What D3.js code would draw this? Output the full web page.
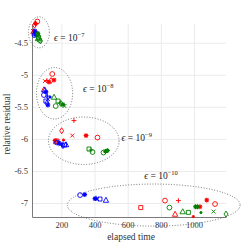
<!DOCTYPE html>
<html><head><meta charset="utf-8">
<script src="https://cdn.jsdelivr.net/npm/d3@7"></script>
<style>body{margin:0;background:#fff}svg{display:block}</style>
</head><body>
<script>
// ---- data ----
const xTicks = [200, 400, 600, 800, 1000];
const yTicks = [-7, -6.5, -6, -5.5, -5, -4.5];

const redTime     = [55, 44, 47, 38, 29, 32, 41,   145, 101, 113, 125, 138, 156, 95,   276, 202, 266, 349, 418, 162, 168, 174, 213,   679, 825, 906, 886, 996, 1036, 1077, 1127];
const redResidual = [-4.169, -4.20, -4.208, -4.224, -4.317, -4.325, -4.341,   -4.988, -5.098, -5.090, -5.113, -5.090, -5.082, -5.230,   -5.714, -5.873, -5.948, -5.948, -5.979, -6.026, -6.041, -6.034, -6.018,   -7.071, -6.962, -6.962, -7.172, -7.211, -7.058, -6.954, -7.016];
const redMarker   = ["o","*","+","d","x","^","*",   "o","x","+","*","d","*","^",   "+","d","x","*","o","*","^","s",".",   "s","o","+","^",".","*","*","o"];

const blueTime     = [41, 44, 50, 38, 47, 53,   101, 107, 95, 116, 119, 132, 107, 113, 119,   174, 186, 195, 201, 210, 219, 228,   313, 341, 403, 409, 415, 433, 469];
const blueResidual = [-4.317, -4.349, -4.364, -4.380, -4.388, -4.364,   -5.238, -5.269, -5.316, -5.332, -5.378, -5.347, -5.410, -5.441, -5.472,   -6.057, -6.065, -6.080, -6.096, -6.104, -6.096, -6.088,   -6.876, -6.868, -6.931, -6.923, -6.938, -6.938, -6.954];
const blueMarker   = ["*","^","s","o","x","+",   "^","*","o","+","x",".","s","d","*",   "o","*","x","+","d","s","^",   "o","*","*","+","x","s","^"];

const greenTime     = [59, 62, 65, 62, 59, 68, 74,   156, 180, 192, 198, 210, 219, 166,   367, 379, 388, 454, 466, 478,   852, 932, 966, 1009, 1021, 1042, 1118, 1193];
const greenResidual = [-4.356, -4.380, -4.395, -4.419, -4.434, -4.458, -4.473,   -5.347, -5.410, -5.441, -5.449, -5.464, -5.488, -5.488,   -6.158, -6.174, -6.205, -6.213, -6.193, -6.182,   -7.071, -7.133, -7.146, -7.058, -7.058, -7.149, -7.133, -7.172];
const greenMarker   = ["*",".","+","s","^","o","d",   "^","s","+","d","*","x","o",   "s","+","o","o","*","*",   "o","^","s","*","*",".","x","d"];

const epsExponent       = ["−7", "−8", "−9", "−10"];
const ellipseTime       = [65, 159, 335, 757];
const ellipseResidual   = [-4.338, -5.288, -6.029, -7.032];
const ellipseTimeRad    = [63, 109, 213, 521];
const ellipseResidRad   = [0.242, 0.402, 0.37, 0.328];
const labelTime         = [156, 331, 563, 700];
const labelResidual     = [-4.47, -5.275, -6.03, -6.62];

// ---- chart ----
const W = 250, H = 250;
const svg = d3.select("body").append("svg").attr("width", W).attr("height", H);
const x = d3.scaleLinear().domain([23, 1193]).range([32, 226]);
const y = d3.scaleLinear().domain([-7.218, -4.208]).range([217, 24]);
const FONT = "'Liberation Serif', 'DejaVu Serif', serif";

// grid
svg.append("g").attr("transform", "translate(0,217)")
  .call(d3.axisBottom(x).tickValues(xTicks).tickSize(-(217 - 24)).tickFormat(""))
  .call(g => { g.select(".domain").remove(); g.selectAll("line").attr("stroke", "#ebebeb").attr("stroke-width", 1); });
svg.append("g").attr("transform", "translate(32,0)")
  .call(d3.axisLeft(y).tickValues(yTicks).tickSize(-(226 - 32)).tickFormat(""))
  .call(g => { g.select(".domain").remove(); g.selectAll("line").attr("stroke", "#ebebeb").attr("stroke-width", 1); });

// axes
const xAxis = svg.append("g").attr("transform", "translate(0,217)")
  .call(d3.axisBottom(x).tickValues(xTicks).tickSize(0).tickPadding(5).tickFormat(d => String(d)));
const yAxis = svg.append("g").attr("transform", "translate(32,0)")
  .call(d3.axisLeft(y).tickValues(yTicks).tickSize(0).tickPadding(4).tickFormat(d => String(d)));
[xAxis, yAxis].forEach(a => {
  a.select(".domain").attr("stroke", "#7a7a7a").attr("stroke-width", 1);
  a.selectAll("text").attr("font-family", FONT).attr("font-size", 8.5).attr("fill", "#333");
});

svg.append("text").attr("x", 131).attr("y", 240).attr("text-anchor", "middle")
  .attr("font-family", FONT).attr("font-size", 9.5).attr("fill", "#333").text("elapsed time");
svg.append("text").attr("transform", "translate(10,124) rotate(-90)").attr("text-anchor", "middle")
  .attr("font-family", FONT).attr("font-size", 9.5).attr("fill", "#333").text("relative residual");

// ellipses
svg.append("g").selectAll("ellipse").data(ellipseTime).join("ellipse")
  .attr("cx", (d) => x(d))
  .attr("cy", (d, i) => y(ellipseResidual[i]))
  .attr("rx", (d, i) => x(d + ellipseTimeRad[i]) - x(d))
  .attr("ry", (d, i) => y(ellipseResidual[i] - ellipseResidRad[i]) - y(ellipseResidual[i]))
  .attr("fill", "none").attr("stroke", "#555").attr("stroke-width", 0.9)
  .attr("stroke-dasharray", "0.9,1.8");

// labels
const lab = svg.append("g").selectAll("text").data(labelTime).join("text")
  .attr("x", d => x(d)).attr("y", (d, i) => y(labelResidual[i]))
  .attr("font-family", FONT).attr("font-size", 9.5).attr("fill", "#222");
lab.append("tspan").attr("font-style", "italic").text("ϵ");
lab.append("tspan").text(" = 10");
lab.append("tspan").attr("dy", -4).attr("font-size", 6.5).text((d, i) => epsExponent[i]);

// markers
function markerPath(t) {
  const r = 2.4;
  switch (t) {
    case "o": return d3.symbol(d3.symbolCircle, Math.PI * r * r)();
    case "s": return d3.symbol(d3.symbolSquare, 16)();
    case "d": return `M0,${-r - 0.6}L${r - 0.4},0L0,${r + 0.6}L${-r + 0.4},0Z`;
    case "^": return `M0,${-r - 0.4}L${r + 0.3},${r - 0.2}L${-r - 0.3},${r - 0.2}Z`;
    case "+": return `M${-r},0L${r},0M0,${-r}L0,${r}`;
    case "x": return `M${-r * 0.8},${-r * 0.8}L${r * 0.8},${r * 0.8}M${-r * 0.8},${r * 0.8}L${r * 0.8},${-r * 0.8}`;
    case "*": return `M${-r},0L${r},0M0,${-r}L0,${r}M${-r * 0.7},${-r * 0.7}L${r * 0.7},${r * 0.7}M${-r * 0.7},${r * 0.7}L${r * 0.7},${-r * 0.7}`;
    case ".": return d3.symbol(d3.symbolCircle, 4)();
  }
}
const series = [
  {color: "#ff0000", t: redTime, r: redResidual, m: redMarker},
  {color: "#0000ff", t: blueTime, r: blueResidual, m: blueMarker},
  {color: "#008000", t: greenTime, r: greenResidual, m: greenMarker}
];
series.forEach(s => {
  svg.append("g").selectAll("path").data(s.t).join("path")
    .attr("transform", (d, i) => `translate(${x(d)},${y(s.r[i])})`)
    .attr("d", (d, i) => markerPath(s.m[i]))
    .attr("fill", (d, i) => s.m[i] === "." ? s.color : "none")
    .attr("stroke", s.color)
    .attr("stroke-width", (d, i) => s.m[i] === "*" ? 1.1 : 0.9);
});
</script>
</body></html>
